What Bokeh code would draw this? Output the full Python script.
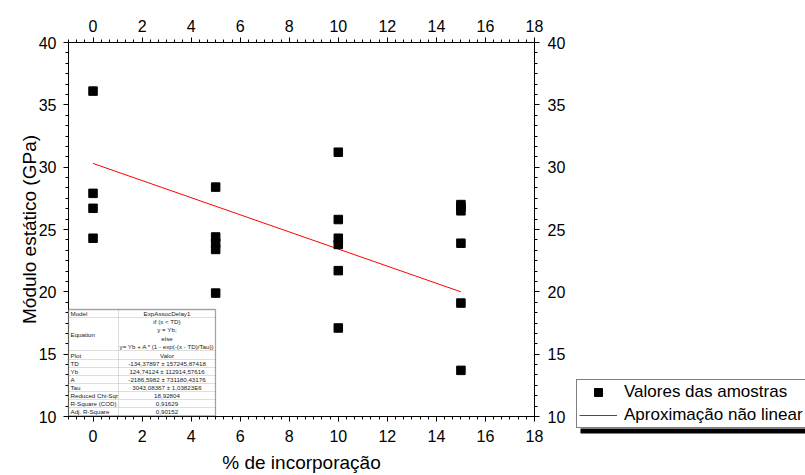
import numpy as np
from bokeh.plotting import figure
from bokeh.models import (LinearAxis, FixedTicker, Range1d, Legend, LegendItem,
                          BoxAnnotation, Label)
from bokeh.embed import file_html
from bokeh.resources import INLINE

# ---------------- data ----------------
x_amostras = [0, 0, 0, 0,
              5, 5, 5, 5, 5,
              10, 10, 10, 10, 10, 10,
              15, 15, 15, 15, 15, 15]
y_modulo = [36.1, 27.9, 26.7, 24.3,
            28.4, 24.4, 23.9, 23.4, 19.9,
            31.2, 25.8, 24.3, 23.8, 21.7, 17.1,
            27.0, 26.8, 26.5, 23.9, 19.1, 13.7]
fit_x = [0, 15]
fit_y = [30.3, 20.0]

x_ticks = [0, 2, 4, 6, 8, 10, 12, 14, 16, 18]
y_ticks = [10, 15, 20, 25, 30, 35, 40]
x_lim = (-1, 18)
y_lim = (10, 40)

table_labels = ["Model", "Equation", "Plot", "TD", "Yb", "A", "Tau",
                "Reduced Chi-Sqr", "R-Square (COD)", "Adj. R-Square"]
table_values = ["ExpAssocDelay1",
                ["if (x < TD)", "y = Yb;", "else", "y= Yb + A * (1 - exp(-(x - TD)/Tau))"],
                "Valor",
                "-134,37897 \u00b1 157245,87418",
                "124,74124 \u00b1 112914,57616",
                "-2186,5982 \u00b1 731180,43176",
                "3043,08367 \u00b1 1,03823E6",
                "18,92804", "0,91629", "0,90152"]

FONT = "Liberation Sans"
W, H = 805, 475
# pixel box of the axes frame in the original figure
PL, PR, PT, PB = 68, 534, 42, 416

# the Bokeh frame covers the whole canvas; the axes are fixed at the data limits
sx_per = (PR - PL) / (x_lim[1] - x_lim[0])
sy_per = (PB - PT) / (y_lim[1] - y_lim[0])
xr = Range1d(x_lim[0] - PL / sx_per, x_lim[1] + (W - PR) / sx_per)
yr = Range1d(y_lim[0] - (H - PB) / sy_per, y_lim[1] + PT / sy_per)

p = figure(width=W, height=H, x_range=xr, y_range=yr,
           output_backend="svg", toolbar_location=None,
           x_axis_location=None, y_axis_location=None,
           min_border=0, min_border_left=0, min_border_right=0,
           min_border_top=0, min_border_bottom=0)
p.grid.visible = False
p.outline_line_color = None
p.background_fill_color = "white"
p.border_fill_color = "white"

xt = FixedTicker(ticks=x_ticks, minor_ticks=list(np.arange(-1, 18.001, 2 / 6)))
yt = FixedTicker(ticks=y_ticks, minor_ticks=list(np.arange(10, 40.001, 5 / 6)))

ax_bottom = LinearAxis(ticker=xt, fixed_location=y_lim[0], bounds=x_lim,
                       axis_label="% de incorpora\u00e7\u00e3o")
ax_top = LinearAxis(ticker=xt, fixed_location=y_lim[1], bounds=x_lim)
ax_left = LinearAxis(ticker=yt, fixed_location=x_lim[0], bounds=y_lim,
                     axis_label="M\u00f3dulo est\u00e1tico (GPa)")
ax_right = LinearAxis(ticker=yt, fixed_location=x_lim[1], bounds=y_lim)

for ax in (ax_bottom, ax_top, ax_left, ax_right):
    ax.axis_line_color = "black"
    ax.axis_line_width = 1
    ax.major_tick_line_color = "black"
    ax.minor_tick_line_color = "black"
    ax.major_tick_in = 0
    ax.major_tick_out = 5
    ax.minor_tick_in = 0
    ax.minor_tick_out = 3
    ax.major_label_text_font = FONT
    ax.major_label_text_font_size = "16px"
    ax.major_label_text_color = "black"
    ax.axis_label_text_font = FONT
    ax.axis_label_text_font_size = "19px"
    ax.axis_label_text_font_style = "normal"
    ax.axis_label_text_color = "black"
    ax.major_label_standoff = 6

ax_bottom.major_label_standoff = 8
ax_bottom.axis_label_standoff = 7
ax_left.major_label_standoff = 7
ax_left.axis_label_standoff = -4
ax_right.major_label_standoff = 8

p.add_layout(ax_bottom, "below")
p.add_layout(ax_top, "above")
p.add_layout(ax_left, "left")
p.add_layout(ax_right, "right")

# ---------------- data glyphs ----------------
ln = p.line(fit_x, fit_y, line_color="#ff0000", line_width=1)
sq = p.scatter(x_amostras, y_modulo, marker="square", size=8.5,
               fill_color="black", line_color="black")


# ---------------- table (screen units; frame = whole canvas) ----------------
def box(l, r, t, b, **kw):
    return BoxAnnotation(left=l, right=r, top=H - t, bottom=H - b,
                         left_units="screen", right_units="screen",
                         top_units="screen", bottom_units="screen", **kw)


tl, tm, tr = 68, 118, 215
rows = [(309, 317), (317, 350), (350, 359), (359, 367), (367, 375), (375, 383),
        (383, 391), (391, 399), (399, 407), (407, 415.5)]

for (t, b) in rows:
    for (l, r) in [(tl, tm), (tm, tr)]:
        p.add_layout(box(l, r, t, b, fill_color="white", fill_alpha=1,
                         line_color="#9a9a9a", line_width=0.8))
p.add_layout(box(tl, tr, rows[0][0], rows[-1][1], fill_alpha=0,
                 line_color="black", line_width=1.3))

TS = "6.2px"
for lab, val, (t, b) in zip(table_labels, table_values, rows):
    yc = (t + b) / 2
    p.add_layout(Label(x=tl + 2, y=H - yc, x_units="screen", y_units="screen",
                       text=lab, text_font=FONT, text_font_size=TS,
                       text_baseline="middle", text_align="left", text_color="#222222"))
    vals = val if isinstance(val, list) else [val]
    h = (b - t) / len(vals)
    for i, v in enumerate(vals):
        p.add_layout(Label(x=(tm + tr) / 2, y=H - (t + h * (i + 0.5)),
                           x_units="screen", y_units="screen",
                           text=v, text_font=FONT, text_font_size=TS,
                           text_baseline="middle", text_align="center",
                           text_color="#222222"))

# ---------------- legend with shadow ----------------
p.add_layout(box(580, 812, 428, 433, fill_color="black", fill_alpha=1, line_color=None))

legend = Legend(items=[LegendItem(label="Valores das amostras", renderers=[sq]),
                       LegendItem(label="Aproxima\u00e7\u00e3o n\u00e3o linear", renderers=[ln])],
                location=(576, H - 428))
legend.border_line_color = "black"
legend.border_line_width = 1
legend.background_fill_color = "white"
legend.background_fill_alpha = 1
legend.label_text_font = FONT
legend.label_text_font_size = "17px"
legend.label_text_color = "black"
legend.glyph_width = 38
legend.glyph_height = 20
legend.label_height = 20
legend.label_standoff = 7
legend.padding = 2
legend.spacing = 3
legend.margin = 0
p.add_layout(legend)

open("out.html", "w").write(file_html(p, INLINE))
